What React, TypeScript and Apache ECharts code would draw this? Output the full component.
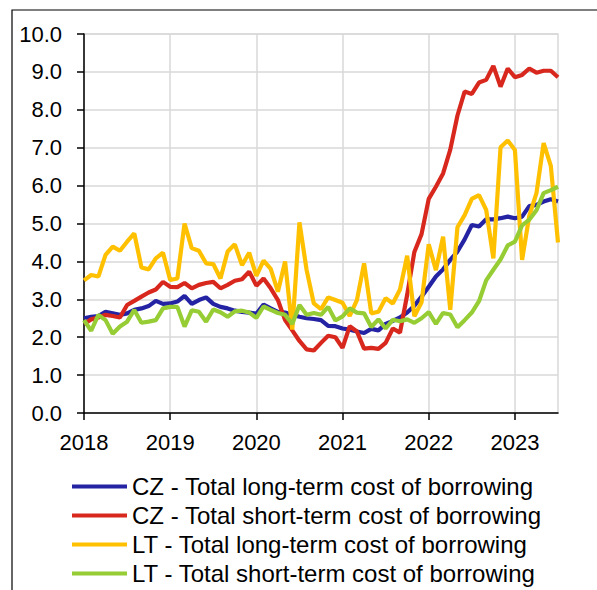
import React, { useEffect, useRef } from "react";
import * as echarts from "echarts";

const startYear = 2018;
const monthCount = 67; // Jan 2018 .. Jul 2023
const months: string[] = [];
for (let k = 0; k < monthCount; k++) {
  const y = startYear + Math.floor(k / 12);
  const m = (k % 12) + 1;
  months.push(`${y}-${m < 10 ? "0" + m : m}`);
}

const seriesNames = [
  "CZ - Total long-term cost of borrowing",
  "CZ - Total short-term cost of borrowing",
  "LT - Total long-term cost of borrowing",
  "LT - Total short-term cost of borrowing",
];

const czLong = [
  2.5, 2.54, 2.56, 2.67, 2.63, 2.59, 2.63, 2.72, 2.76, 2.82, 2.96, 2.88,
  2.89, 2.94, 3.09, 2.88, 2.98, 3.05, 2.88, 2.8, 2.76, 2.7, 2.67, 2.65,
  2.62, 2.86, 2.76, 2.67, 2.65, 2.59, 2.54, 2.5, 2.48, 2.45, 2.3, 2.29,
  2.23, 2.2, 2.15, 2.11, 2.22, 2.18, 2.35, 2.43, 2.52, 2.65, 2.83, 3.07,
  3.33, 3.6, 3.79, 4.04, 4.26, 4.58, 4.96, 4.92, 5.11, 5.11, 5.14, 5.18,
  5.14, 5.18, 5.46, 5.49, 5.58, 5.64, 5.58,
];

const czShort = [
  2.35, 2.47, 2.52, 2.59, 2.56, 2.52, 2.85, 2.96, 3.07, 3.18, 3.26, 3.46,
  3.33, 3.32, 3.43, 3.29, 3.38, 3.43, 3.46, 3.29, 3.38, 3.49, 3.53, 3.73,
  3.36, 3.55, 3.29, 2.98, 2.45, 2.18, 1.9, 1.68, 1.65, 1.85, 2.04, 2.0,
  1.72, 2.29, 2.15, 1.7, 1.72, 1.69, 1.85, 2.23, 2.12, 3.12, 4.25, 4.72,
  5.65, 5.97, 6.32, 6.95, 7.85, 8.48, 8.42, 8.72, 8.79, 9.16, 8.61, 9.09,
  8.86, 8.92, 9.09, 8.98, 9.03, 9.03, 8.86,
];

const ltLong = [
  3.5, 3.64, 3.6, 4.17, 4.39, 4.28, 4.52, 4.74, 3.84, 3.79, 4.08, 4.23,
  3.51, 3.55, 5.0, 4.35, 4.28, 3.95, 3.93, 3.55, 4.26, 4.45, 3.9, 4.23,
  3.62, 4.02, 3.8, 3.2, 4.0, 2.2, 5.03, 3.77, 2.89, 2.74, 3.05, 2.98,
  2.91, 2.56, 2.98, 3.95, 2.63, 2.67, 3.03, 2.89, 3.26, 4.15, 2.55, 2.92,
  4.45, 3.77, 4.65, 2.72, 4.9, 5.22, 5.65, 5.75, 5.36, 4.08, 7.01, 7.19,
  6.94, 4.04, 5.2, 5.8, 7.12, 6.52, 4.5,
];

const ltShort = [
  2.45, 2.17, 2.59, 2.45, 2.09, 2.28, 2.41, 2.72, 2.38, 2.41, 2.45, 2.76,
  2.8, 2.8, 2.28, 2.71, 2.67, 2.41, 2.73, 2.66, 2.54, 2.68, 2.7, 2.65,
  2.51, 2.81, 2.72, 2.64, 2.59, 2.35, 2.85, 2.59, 2.64, 2.59, 2.8, 2.44,
  2.55, 2.76, 2.65, 2.63, 2.27, 2.47, 2.23, 2.46, 2.42, 2.47, 2.38, 2.5,
  2.66, 2.35, 2.64, 2.6, 2.26, 2.45, 2.65, 2.95, 3.5, 3.78, 4.05, 4.42,
  4.52, 4.95, 5.1, 5.35, 5.8, 5.88, 5.97,
];

const colors = ["#2323A3", "#D8281E", "#FFC000", "#96CC34"];

const FONT = "'Liberation Sans', Arial, sans-serif";

export default function App() {
  const ref = useRef<HTMLDivElement>(null);

  useEffect(() => {
    document.body.style.margin = "0";
    if (!ref.current) return;
    const chart = echarts.init(ref.current, undefined, { renderer: "svg" });
    const data = [czLong, czShort, ltLong, ltShort];
    chart.setOption({
      animation: false,
      backgroundColor: "#ffffff",
      textStyle: { fontFamily: FONT },
      graphic: [
        {
          type: "rect",
          shape: { x: 12, y: 10, width: 700, height: 700 },
          style: { fill: "none", stroke: "#000000", lineWidth: 1.2 },
          silent: true,
        },
      ],
      grid: {
        left: 84,
        top: 34,
        right: 39,
        bottom: 177,
        show: true,
        borderColor: "#d9d9d9",
        borderWidth: 1.5,
        containLabel: false,
      },
      legend: {
        orient: "vertical",
        left: 72,
        top: 474.5,
        height: 115,
        padding: 0,
        icon: "rect",
        itemWidth: 55,
        itemHeight: 4,
        itemGap: 5.0,
        data: seriesNames,
        textStyle: {
          fontFamily: FONT,
          fontSize: 24,
          color: "#000000",
          lineHeight: 22,
        },
      },
      xAxis: {
        type: "category",
        data: months,
        boundaryGap: false,
        axisLine: { lineStyle: { color: "#000000", width: 1.5 } },
        axisTick: {
          interval: 11,
          length: 7,
          lineStyle: { color: "#000000", width: 1.5 },
        },
        axisLabel: {
          interval: 11,
          margin: 18,
          fontSize: 22,
          color: "#000000",
          fontFamily: FONT,
          formatter: (v: string) => v.slice(0, 4),
        },
        splitLine: {
          show: true,
          interval: 11,
          lineStyle: { color: "#d9d9d9", width: 1.5 },
        },
      },
      yAxis: {
        type: "value",
        min: 0,
        max: 10,
        interval: 1,
        axisLine: { show: true, lineStyle: { color: "#000000", width: 1.5 } },
        axisTick: {
          show: true,
          length: 7,
          lineStyle: { color: "#000000", width: 1.5 },
        },
        axisLabel: {
          margin: 22,
          fontSize: 22,
          color: "#000000",
          fontFamily: FONT,
          formatter: (v: number) => v.toFixed(1),
        },
        splitLine: { show: true, lineStyle: { color: "#d9d9d9", width: 1.5 } },
      },
      series: seriesNames.map((name, i) => ({
        name,
        type: "line",
        data: data[i],
        symbol: "none",
        showSymbol: false,
        color: colors[i],
        lineStyle: { color: colors[i], width: 4.2 },
        itemStyle: { color: colors[i] },
        z: 2 + i,
      })),
    });
    return () => chart.dispose();
  }, []);

  return <div ref={ref} style={{ width: 597, height: 590 }} />;
}
